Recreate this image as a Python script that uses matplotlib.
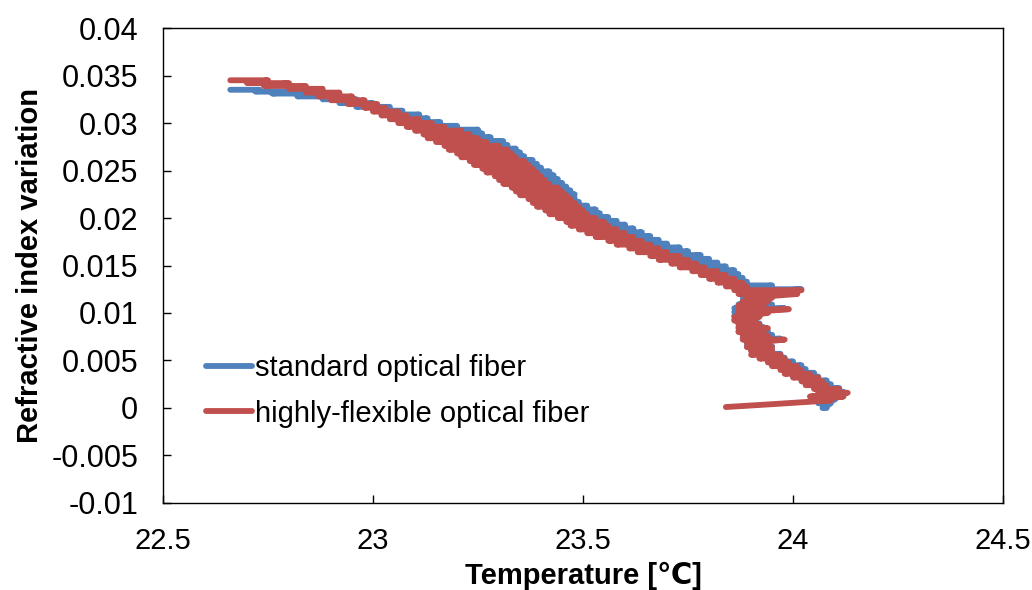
import matplotlib
matplotlib.use("Agg")
import matplotlib.pyplot as plt

plt.rcParams['font.family'] = ['Liberation Sans', 'DejaVu Sans']

# Each series was recorded as a noisy trace: at every refractive-index level the
# temperature reading sweeps between a low and a high value.

# standard optical fiber (blue)
std_level = [0.0335, 0.0333, 0.0331, 0.0328, 0.0325, 0.0321, 0.0317, 0.0313, 0.0309, 0.0305,
             0.0301, 0.0297, 0.0293, 0.0289, 0.0285, 0.0281, 0.0277, 0.0273, 0.0269, 0.0265,
             0.0261, 0.0257, 0.0253, 0.0249, 0.0245, 0.0241, 0.0237, 0.0233, 0.0229, 0.0225,
             0.0221, 0.0217, 0.0213, 0.0209, 0.0205, 0.0201, 0.0197, 0.0193, 0.0189, 0.0185,
             0.0181, 0.0177, 0.0173, 0.0169, 0.0165, 0.0161, 0.0157, 0.0153, 0.0149, 0.0145,
             0.0141, 0.0137, 0.0133, 0.0129, 0.0125, 0.0121, 0.0117, 0.0113, 0.0109, 0.0105,
             0.0101, 0.0097, 0.0093, 0.0089, 0.0085, 0.0081, 0.0077, 0.0073, 0.0069, 0.0065,
             0.0061, 0.0057, 0.0053, 0.0049, 0.0045, 0.0041, 0.0037, 0.0033, 0.0029, 0.0025,
             0.0021, 0.0017, 0.0013, 0.0009, 0.0005, 0.0000]
std_low = [22.66, 22.72, 22.76, 22.82, 22.88, 22.92, 22.96, 23.00, 23.03, 23.06,
           23.09, 23.11, 23.13, 23.15, 23.17, 23.19, 23.21, 23.22, 23.24, 23.25,
           23.27, 23.28, 23.30, 23.31, 23.33, 23.34, 23.36, 23.37, 23.39, 23.40,
           23.41, 23.43, 23.44, 23.45, 23.47, 23.48, 23.50, 23.52, 23.54, 23.56,
           23.59, 23.61, 23.63, 23.65, 23.67, 23.70, 23.72, 23.74, 23.76, 23.78,
           23.80, 23.82, 23.84, 23.86, 23.87, 23.89, 23.88, 23.88, 23.87, 23.86,
           23.86, 23.86, 23.86, 23.87, 23.87, 23.87, 23.88, 23.88, 23.89, 23.89,
           23.90, 23.91, 23.92, 23.94, 23.95, 23.97, 23.99, 24.00, 24.02, 24.03,
           24.05, 24.06, 24.07, 24.06, 24.06, 24.07]
std_high = [22.73, 22.80, 22.86, 22.92, 22.96, 23.00, 23.04, 23.07, 23.11, 23.13,
            23.16, 23.20, 23.25, 23.26, 23.28, 23.31, 23.32, 23.34, 23.35, 23.36,
            23.38, 23.39, 23.40, 23.42, 23.43, 23.44, 23.45, 23.46, 23.47, 23.48,
            23.48, 23.49, 23.51, 23.53, 23.54, 23.56, 23.58, 23.60, 23.62, 23.64,
            23.66, 23.68, 23.70, 23.73, 23.75, 23.78, 23.80, 23.82, 23.84, 23.86,
            23.87, 23.88, 23.89, 23.95, 24.02, 23.97, 23.95, 23.94, 23.95, 23.98,
            23.93, 23.92, 23.91, 23.92, 23.93, 23.94, 23.95, 23.97, 23.94, 23.95,
            23.95, 23.97, 23.98, 24.00, 24.02, 24.03, 24.05, 24.06, 24.08, 24.09,
            24.11, 24.12, 24.12, 24.10, 24.09, 24.08]

# highly-flexible optical fiber (red)
flex_level = [0.0345, 0.0342, 0.0339, 0.0336, 0.0332, 0.0328, 0.0324, 0.0320, 0.0316, 0.0312,
              0.0308, 0.0304, 0.0300, 0.0296, 0.0292, 0.0288, 0.0284, 0.0280, 0.0276, 0.0272,
              0.0268, 0.0264, 0.0260, 0.0256, 0.0252, 0.0248, 0.0244, 0.0240, 0.0236, 0.0232,
              0.0228, 0.0224, 0.0220, 0.0216, 0.0212, 0.0208, 0.0204, 0.0200, 0.0196, 0.0192,
              0.0188, 0.0184, 0.0180, 0.0176, 0.0172, 0.0168, 0.0164, 0.0160, 0.0156, 0.0152,
              0.0148, 0.0144, 0.0140, 0.0136, 0.0132, 0.0128, 0.0124, 0.0120, 0.0116, 0.0112,
              0.0108, 0.0104, 0.0100, 0.0096, 0.0092, 0.0088, 0.0084, 0.0080, 0.0076, 0.0072,
              0.0068, 0.0064, 0.0060, 0.0056, 0.0052, 0.0048, 0.0044, 0.0040, 0.0036, 0.0032,
              0.0028, 0.0024, 0.0020, 0.0016, 0.0012, 0.0008]
flex_low = [22.66, 22.70, 22.74, 22.80, 22.84, 22.87, 22.90, 22.94, 22.98, 23.00,
            23.02, 23.04, 23.06, 23.08, 23.10, 23.12, 23.13, 23.15, 23.17, 23.18,
            23.20, 23.21, 23.23, 23.24, 23.26, 23.27, 23.29, 23.30, 23.31, 23.33,
            23.34, 23.35, 23.37, 23.38, 23.39, 23.41, 23.42, 23.44, 23.46, 23.47,
            23.49, 23.51, 23.53, 23.56, 23.58, 23.61, 23.63, 23.66, 23.68, 23.71,
            23.73, 23.76, 23.78, 23.80, 23.82, 23.84, 23.86, 23.87, 23.89, 23.88,
            23.87, 23.87, 23.87, 23.86, 23.86, 23.87, 23.87, 23.87, 23.88, 23.88,
            23.89, 23.89, 23.90, 23.90, 23.92, 23.94, 23.95, 23.97, 23.98, 24.00,
            24.02, 24.03, 24.05, 24.06, 24.04, 24.05]
flex_high = [22.75, 22.80, 22.84, 22.88, 22.92, 22.95, 22.98, 23.01, 23.03, 23.06,
             23.08, 23.11, 23.14, 23.17, 23.21, 23.23, 23.25, 23.27, 23.30, 23.32,
             23.33, 23.34, 23.36, 23.37, 23.38, 23.39, 23.40, 23.41, 23.42, 23.44,
             23.45, 23.46, 23.47, 23.48, 23.49, 23.50, 23.51, 23.53, 23.55, 23.56,
             23.58, 23.60, 23.62, 23.64, 23.66, 23.68, 23.70, 23.73, 23.75, 23.77,
             23.79, 23.82, 23.84, 23.86, 23.88, 23.89, 24.02, 24.01, 23.95, 23.94,
             23.93, 23.99, 23.94, 23.92, 23.91, 23.92, 23.94, 23.93, 23.94, 23.98,
             23.94, 23.95, 23.95, 23.97, 23.98, 23.99, 24.01, 24.02, 24.04, 24.06,
             24.07, 24.08, 24.11, 24.13, 24.12, 24.09]
# return sweep of the red trace back to the starting temperature
flex_tail_temp = [23.95, 23.84]
flex_tail_n = [0.0004, 0.0001]

x_ticks = [22.5, 23, 23.5, 24, 24.5]
y_ticks = [-0.01, -0.005, 0, 0.005, 0.01, 0.015, 0.02, 0.025, 0.03, 0.035, 0.04]


def sweep(levels, low, high):
    xs, ys = [], []
    for y, a, b in zip(levels, low, high):
        xs += [a, b]
        ys += [y, y]
    return xs, ys


std_x, std_y = sweep(std_level, std_low, std_high)
flex_x, flex_y = sweep(flex_level, flex_low, flex_high)
flex_x += flex_tail_temp
flex_y += flex_tail_n

fig = plt.figure(figsize=(10.32, 5.90), dpi=100)
ax = fig.add_axes([0.158, 0.1475, 0.814, 0.805])

ax.plot(std_x, std_y, color='#4F81BD', lw=4.2, solid_capstyle='round',
        solid_joinstyle='round', label='standard optical fiber')
ax.plot(flex_x, flex_y, color='#C0504D', lw=4.2, solid_capstyle='round',
        solid_joinstyle='round', label='highly-flexible optical fiber')

ax.set_xlim(22.5, 24.5)
ax.set_ylim(-0.01, 0.04)
ax.set_xticks(x_ticks)
ax.set_xticklabels([f'{v:g}' for v in x_ticks])
ax.set_yticks(y_ticks)
ax.set_yticklabels([f'{v:g}' for v in y_ticks])
ax.tick_params(direction='in', length=6, width=1)
ax.tick_params(axis='x', labelsize=21, pad=17)
ax.tick_params(axis='y', labelsize=22, pad=18)
for s in ax.spines.values():
    s.set_linewidth(1)

ax.set_xlabel('Temperature [℃]', fontsize=21, fontweight='bold', labelpad=5)
ax.set_ylabel('Refractive index variation', fontsize=21, fontweight='bold', labelpad=5)

ax.legend(loc='center left', bbox_to_anchor=(0.037, 0.236), frameon=False,
          fontsize=21, handlelength=1.6, handletextpad=0.1, labelspacing=0.6,
          borderaxespad=0)

fig.savefig('out.png', dpi=100)
